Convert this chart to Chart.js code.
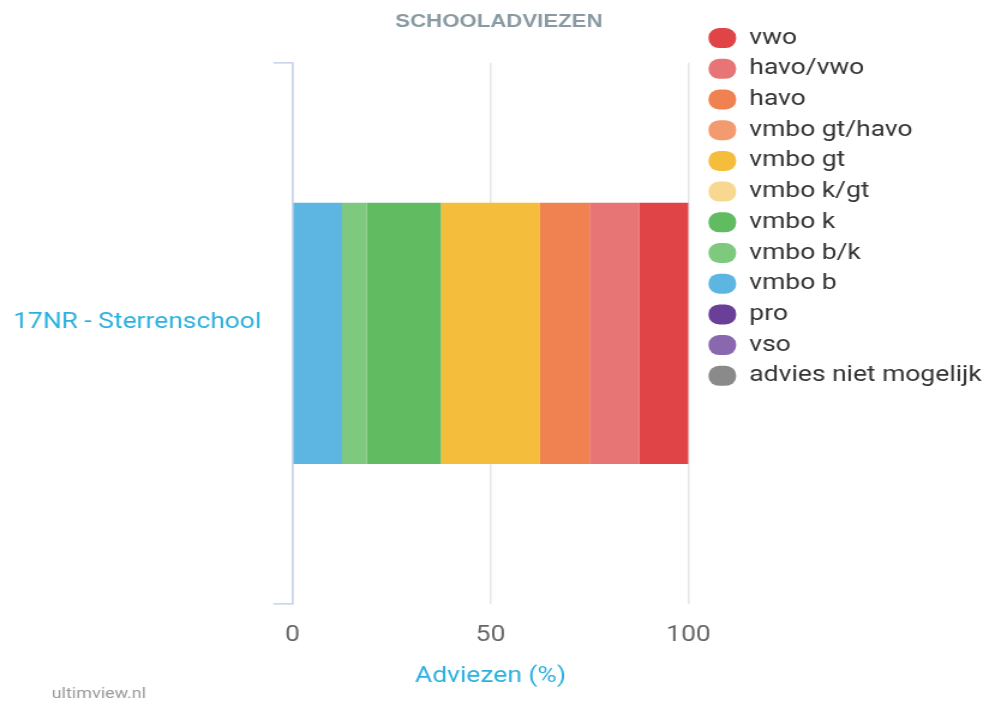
<!DOCTYPE html>
<html>
<head>
<meta charset="utf-8">
<script src="https://cdn.jsdelivr.net/npm/chart.js@4"></script>
<style>
  html, body { margin: 0; padding: 0; background: #fff; overflow: hidden; }
  #wrap {
    width: 824px;
    height: 705px;
    transform: scaleX(1.2002);
    transform-origin: 0 0;
  }
</style>
</head>
<body>
<div id="wrap"><canvas id="adviezenChart"></canvas></div>
<script>
// Data (percentages of pupils per advice type)
const categories = ['17NR - Sterrenschool'];
const adviesLabels = ['advies niet mogelijk', 'vso', 'pro', 'vmbo b', 'vmbo b/k', 'vmbo k', 'vmbo k/gt', 'vmbo gt', 'vmbo gt/havo', 'havo', 'havo/vwo', 'vwo'];
const adviesValues = [0, 0, 0, 12.5, 6.25, 18.75, 0, 25, 0, 12.5, 12.5, 12.5];
const adviesColors = ['#8a8a8a', '#8a68b0', '#6a3f97', '#5db6e2', '#7fc97f', '#60bb61', '#f8d890', '#f4bd3b', '#f39a70', '#f08150', '#e87575', '#e04446'];
const xTicks = [0, 50, 100];

const datasets = adviesLabels.map((label, i) => ({
    label: label,
    data: [adviesValues[i]],
    backgroundColor: adviesColors[i],
    borderWidth: 0,
    categoryPercentage: 0.8,
    barPercentage: 0.603
}));

// small layout nudges + watermark
const tweaks = {
    id: 'tweaks',
    afterLayout(chart) {
        if (chart.legend) {
            chart.legend.left += 8;
            chart.legend.right += 8;
            chart.legend.top += 1;
        }
        if (chart.titleBlock) {
            chart.titleBlock.left += 7;
            chart.titleBlock.right += 7;
        }
    },
    afterDraw(chart) {
        const ctx = chart.ctx;
        ctx.save();
        ctx.font = '15px Roboto';
        ctx.fillStyle = '#999999';
        ctx.textAlign = 'left';
        ctx.textBaseline = 'middle';
        ctx.fillText('ultimview.nl', 43, 694);
        ctx.restore();
    }
};

new Chart(document.getElementById('adviezenChart'), {
    type: 'bar',
    data: {
        labels: categories,
        datasets: datasets
    },
    plugins: [tweaks],
    options: {
        indexAxis: 'y',
        responsive: true,
        maintainAspectRatio: false,
        animation: false,
        devicePixelRatio: 1,
        layout: {
            padding: { top: 17.4, left: 10, right: 4, bottom: 8 }
        },
        plugins: {
            title: {
                display: true,
                text: 'SCHOOLADVIEZEN',
                fullSize: false,
                color: '#8a9aa2',
                font: { family: '"Liberation Sans", Arial, sans-serif', size: 18.5, weight: 'bold', lineHeight: 0.5 },
                padding: { top: 0, bottom: 36 }
            },
            legend: {
                position: 'right',
                align: 'start',
                reverse: true,
                maxWidth: 300,
                labels: {
                    boxWidth: 23,
                    boxHeight: 20,
                    useBorderRadius: true,
                    borderRadius: 9,
                    padding: 8.7,
                    color: '#333333',
                    font: { family: 'Roboto', size: 22 }
                }
            },
            tooltip: { enabled: false }
        },
        scales: {
            x: {
                stacked: true,
                min: 0,
                max: 100,
                afterBuildTicks: axis => { axis.ticks = xTicks.map(v => ({ value: v })); },
                grid: {
                    color: '#e6e6e6',
                    lineWidth: 1.5,
                    drawTicks: false
                },
                border: { display: false },
                ticks: {
                    padding: 18,
                    color: '#666666',
                    font: { family: 'Roboto', size: 22 }
                },
                title: {
                    display: true,
                    text: 'Adviezen (%)',
                    color: '#2cb1df',
                    font: { family: 'Roboto', size: 22 },
                    padding: { top: -3.6, bottom: 7.8 }
                }
            },
            y: {
                stacked: true,
                afterFit: axis => { axis.width = 233.75; },
                grid: {
                    drawOnChartArea: false,
                    color: '#ccd6eb',
                    lineWidth: 1.7,
                    tickLength: 16
                },
                border: { color: '#ccd6eb', width: 1.7 },
                ticks: {
                    padding: 10,
                    labelOffset: -11,
                    color: '#2cb1df',
                    font: { family: 'Roboto', size: 22 }
                }
            }
        }
    }
});
</script>
</body>
</html>
